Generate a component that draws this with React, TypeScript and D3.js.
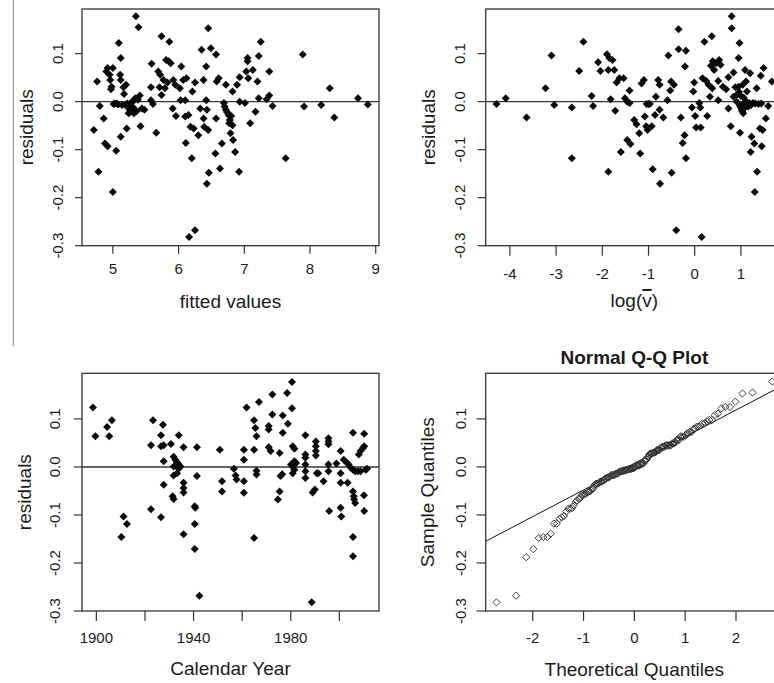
import React from "react";
import * as d3 from "d3";

// ---------- data ----------
const fittedPoints: [number, number][] = [
  [4.71,-0.059],[4.76,0.042],[4.78,-0.146],[4.80,-0.009],[4.86,-0.035],[4.88,-0.087],[4.92,-0.093],[4.90,0.063],
  [4.92,0.070],[4.95,0.056],[4.96,0.045],[5.00,0.070],[4.98,0.031],[4.97,0.026],[5.00,-0.188],[5.01,-0.005],
  [5.05,-0.102],[5.06,-0.004],[5.09,0.122],[5.12,0.091],[5.11,0.056],[5.12,0.045],[5.12,-0.073],[5.16,0.030],
  [5.17,0.016],[5.14,-0.007],[5.19,-0.007],[5.21,-0.056],[5.20,0.035],[5.24,-0.024],[5.25,-0.016],[5.27,-0.009],
  [5.29,-0.017],[5.30,0.000],[5.34,0.007],[5.35,0.178],[5.39,0.155],[5.41,0.013],[5.42,-0.051],[5.44,-0.014],
  [5.48,-0.017],[5.58,0.003],[5.59,0.079],[5.58,0.030],[5.61,-0.005],[5.66,-0.065],[5.71,0.030],[5.69,0.063],
  [5.72,0.056],[5.74,0.014],[5.74,0.136],[5.77,0.045],[5.79,0.028],[5.81,0.087],[5.83,0.040],[5.86,0.125],
  [5.85,0.084],[5.88,0.080],[5.91,-0.014],[5.92,0.045],[5.95,0.035],[5.96,-0.030],[6.02,0.028],[6.04,0.073],
  [6.03,0.003],[6.07,0.045],[6.10,0.003],[6.10,-0.031],[6.11,-0.086],[6.12,0.049],[6.15,-0.028],[6.16,-0.282],
  [6.18,-0.052],[6.20,-0.118],[6.21,0.021],[6.23,-0.056],[6.25,0.040],[6.25,-0.268],[6.30,-0.070],[6.33,-0.014],
  [6.35,0.108],[6.38,0.045],[6.38,-0.035],[6.39,-0.052],[6.42,0.073],[6.42,0.003],[6.43,-0.017],[6.43,-0.171],
  [6.45,0.153],[6.45,-0.059],[6.46,-0.148],[6.49,0.111],[6.56,-0.108],[6.57,0.098],[6.57,-0.035],[6.58,0.042],
  [6.61,0.049],[6.63,-0.139],[6.66,-0.087],[6.69,-0.003],[6.72,-0.017],[6.72,0.035],[6.76,-0.028],[6.78,-0.038],
  [6.79,-0.066],[6.82,0.021],[6.82,-0.049],[6.83,-0.080],[6.86,-0.105],[6.89,0.035],[6.92,-0.146],[6.93,0.000],
  [6.93,0.051],[7.01,-0.003],[7.03,0.063],[7.05,0.084],[7.05,0.091],[7.06,0.049],[7.09,-0.045],[7.13,0.066],
  [7.17,-0.021],[7.20,0.042],[7.22,0.007],[7.22,0.095],[7.25,0.125],[7.34,0.005],[7.38,0.063],[7.38,0.013],
  [7.43,-0.009],[7.63,-0.118],[7.89,0.098],[7.91,-0.010],[8.17,-0.007],[8.30,0.028],[8.37,-0.033],[8.73,0.007],
  [8.88,-0.006],[5.03,-0.004],[5.08,-0.006],[5.22,-0.004],[5.26,-0.022],[5.28,-0.002],[5.31,-0.012],[5.32,-0.024],
  [5.36,-0.020],[5.38,0.004],[6.70,-0.010],[6.74,-0.022],[6.80,-0.030],[6.77,-0.045],
];

const logVPoints: [number, number][] = [
  [-4.29,-0.005],[-4.09,0.007],[-3.64,-0.033],[-3.23,0.028],[-3.10,0.096],[-3.04,-0.007],[-2.66,-0.012],[-2.66,-0.118],
  [-2.50,0.064],[-2.41,0.125],[-2.23,0.012],[-2.20,-0.009],[-2.09,0.082],[-2.04,0.064],[-1.90,0.099],[-1.85,0.091],
  [-1.78,0.087],[-1.87,0.066],[-1.74,0.066],[-1.87,-0.146],[-1.82,0.005],[-1.72,-0.019],[-1.69,0.040],[-1.63,0.049],
  [-1.54,0.049],[-1.60,-0.105],[-1.51,0.007],[-1.46,0.000],[-1.41,0.023],[-1.41,-0.003],[-1.46,-0.080],[-1.39,-0.088],
  [-1.31,-0.038],[-1.26,-0.047],[-1.20,-0.066],[-1.18,-0.108],[-1.15,0.038],[-1.10,0.045],[-1.08,-0.031],[-1.05,-0.051],
  [-1.04,-0.005],[-1.00,-0.005],[-1.02,-0.059],[-0.97,-0.005],[-0.93,-0.051],[-0.91,-0.141],[-0.86,-0.028],[-0.84,0.010],
  [-0.79,0.045],[-0.76,0.035],[-0.76,-0.017],[-0.75,-0.171],[-0.68,-0.033],[-0.59,0.003],[-0.57,0.096],[-0.53,0.023],
  [-0.51,0.042],[-0.50,-0.148],[-0.45,0.035],[-0.40,-0.268],[-0.35,0.151],[-0.35,0.109],[-0.30,-0.033],[-0.26,-0.086],
  [-0.22,-0.070],[-0.21,0.073],[-0.19,0.106],[-0.19,-0.118],[-0.06,-0.012],[-0.03,0.021],[-0.01,0.040],[0.01,-0.030],
  [0.03,-0.054],[0.10,-0.003],[0.12,-0.012],[0.15,-0.282],[0.13,-0.054],[0.17,0.049],[0.21,0.125],[0.25,0.043],
  [0.27,-0.030],[0.30,0.035],[0.33,0.010],[0.35,0.075],[0.37,0.136],[0.38,0.028],[0.39,0.084],[0.42,0.066],
  [0.46,0.080],[0.51,0.043],[0.53,0.087],[0.51,0.003],[0.56,0.077],[0.61,0.031],[0.68,0.026],[0.73,-0.014],
  [0.73,0.051],[0.78,-0.051],[0.80,0.178],[0.80,0.153],[0.84,0.061],[0.84,0.010],[0.91,0.000],[0.95,0.091],
  [0.95,0.031],[0.97,0.122],[0.98,-0.065],[0.98,-0.009],[1.02,-0.017],[1.04,0.035],[1.07,-0.003],[1.09,0.066],
  [1.11,0.042],[1.13,0.021],[1.16,-0.010],[1.20,0.059],[1.21,-0.105],[1.23,-0.073],[1.26,-0.003],[1.29,-0.087],
  [1.30,-0.188],[1.34,0.028],[1.35,-0.146],[1.38,-0.005],[1.41,-0.056],[1.43,0.054],[1.45,-0.093],[1.47,-0.059],
  [1.49,0.070],[1.54,-0.035],[1.59,-0.009],[1.67,0.042],[1.00,-0.012],[1.03,-0.020],[1.05,-0.024],[1.08,-0.013],
  [1.10,-0.006],[1.12,0.000],[1.15,-0.008],[1.18,-0.003],[1.22,-0.007],[1.31,-0.004],[0.88,0.030],[0.92,0.015],
  [0.96,0.020],[1.00,0.012],[1.06,0.008],[1.44,-0.004],
];

const yearPoints: [number, number][] = [
  [1898.6,0.124],[1899.6,0.064],[1904.4,0.083],[1906.4,0.097],[1905.3,0.064],[1911.2,-0.103],[1912.6,-0.119],[1910.3,-0.146],
  [1922.5,-0.088],[1922.5,0.045],[1923.3,0.097],[1926.6,-0.105],[1926.6,0.066],[1927.4,0.088],[1927.7,0.045],[1926.6,0.043],
  [1927.7,0.012],[1927.7,-0.037],[1930.7,0.048],[1933.9,0.066],[1931.8,0.021],[1932.5,0.015],[1933.2,0.010],[1933.9,0.005],
  [1931.8,0.001],[1933.9,-0.004],[1931.8,-0.018],[1933.2,-0.013],[1934.6,0.001],[1931.4,-0.061],[1931.8,-0.067],[1935.9,0.041],
  [1935.9,-0.033],[1935.9,-0.044],[1935.9,-0.053],[1935.9,-0.140],[1941.4,0.041],[1941.4,-0.019],[1940.5,-0.082],[1940.7,-0.085],
  [1940.5,-0.119],[1940.5,-0.171],[1942.4,-0.268],[1950.8,0.036],[1951.7,-0.030],[1951.7,-0.051],
  [1956.6,-0.004],[1957.3,-0.018],[1957.7,-0.026],[1960.7,0.036],[1960.7,0.015],[1960.7,-0.030],[1960.7,-0.054],[1961.8,0.124],
  [1964.9,-0.148],[1964.9,0.036],[1964.9,0.097],[1965.4,0.081],[1965.9,0.064],[1965.9,-0.008],[1965.9,-0.016],[1966.9,0.135],
  [1970.9,0.085],[1970.9,0.078],[1970.9,0.041],[1971.7,0.033],[1972.4,0.151],[1972.4,0.109],[1974.7,-0.068],[1975.4,-0.051],
  [1975.4,0.029],[1975.8,-0.019],[1976.5,-0.015],[1976.7,0.107],[1976.7,0.071],[1978.5,0.154],[1978.8,0.090],[1980.5,0.177],
  [1980.5,0.122],[1980.8,0.043],[1981.5,0.038],[1980.1,0.005],[1980.8,0.001],[1981.5,0.012],[1980.8,-0.013],[1981.5,-0.006],
  [1982.2,0.008],[1986.0,0.066],[1986.0,0.026],[1986.0,0.019],[1986.0,0.005],[1986.0,-0.009],[1986.0,-0.023],[1990.3,0.053],
  [1990.3,0.043],[1990.3,0.033],[1990.3,0.024],[1989.0,-0.053],[1989.9,-0.047],[1990.7,-0.013],[1991.3,-0.013],[1993.5,-0.030],
  [1995.5,0.060],[1995.5,0.053],[1995.5,0.047],[1995.5,0.005],[1995.5,-0.009],[1995.8,-0.092],[1998.8,0.007],[2000.5,0.033],
  [2000.5,-0.013],[2000.5,-0.033],[2000.5,-0.085],[2000.8,-0.103],[2001.8,0.015],[2002.9,0.010],[2003.4,-0.033],[2003.8,0.005],
  [2004.8,-0.002],[2005.6,0.071],[2005.6,-0.006],[2005.6,-0.051],[2005.9,-0.061],[2006.1,-0.068],[2006.5,-0.075],[2005.6,-0.146],
  [2005.6,-0.186],[2006.5,-0.009],[2007.6,-0.009],[2008.0,0.026],[2008.7,0.033],[2009.8,0.040],[2010.2,0.069],[2010.2,0.043],
  [2010.1,-0.059],[2010.2,-0.092],[2008.7,-0.009],[2010.8,-0.006],[2011.4,-0.004],[1988.6,-0.282],
];

// reference line of the Q-Q panel
const qqLineIntercept = 0.0075;
const qqLineSlope = 0.0555;

const residualTicks = [-0.3, -0.2, -0.1, 0, 0.1];
const residualTickLabels = ["-0.3", "-0.2", "-0.1", "0.0", "0.1"];
const fittedTicks = [5, 6, 7, 8, 9];
const fittedTickLabels = ["5", "6", "7", "8", "9"];
const logVTicks = [-4, -3, -2, -1, 0, 1];
const logVTickLabels = ["-4", "-3", "-2", "-1", "0", "1"];
const yearTicks = [1900, 1920, 1940, 1960, 1980, 2000];
const yearTickLabels = ["1900", "", "1940", "", "1980", ""];
const qqTicks = [-2, -1, 0, 1, 2];
const qqTickLabels = ["-2", "-1", "0", "1", "2"];

// ---------- helpers ----------
function qnorm(p: number): number {
  const a = [-3.969683028665376e1, 2.209460984245205e2, -2.759285104469687e2, 1.38357751867269e2, -3.066479806614716e1, 2.506628277459239];
  const b = [-5.447609879822406e1, 1.615858368580409e2, -1.556989798598866e2, 6.680131188771972e1, -1.328068155288572e1];
  const c = [-7.784894002430293e-3, -3.223964580411365e-1, -2.400758277161838, -2.549732539343734, 4.374664141464968, 2.938163982698783];
  const d = [7.784695709041462e-3, 3.224671290700398e-1, 2.445134137142996, 3.754408661907416];
  const plow = 0.02425;
  if (p < plow) {
    const q = Math.sqrt(-2 * Math.log(p));
    return (((((c[0] * q + c[1]) * q + c[2]) * q + c[3]) * q + c[4]) * q + c[5]) / ((((d[0] * q + d[1]) * q + d[2]) * q + d[3]) * q + 1);
  }
  if (p <= 1 - plow) {
    const q = p - 0.5, r = q * q;
    return ((((((a[0] * r + a[1]) * r + a[2]) * r + a[3]) * r + a[4]) * r + a[5]) * q) / (((((b[0] * r + b[1]) * r + b[2]) * r + b[3]) * r + b[4]) * r + 1);
  }
  const q = Math.sqrt(-2 * Math.log(1 - p));
  return -(((((c[0] * q + c[1]) * q + c[2]) * q + c[3]) * q + c[4]) * q + c[5]) / ((((d[0] * q + d[1]) * q + d[2]) * q + d[3]) * q + 1);
}

const sortedResiduals = fittedPoints.map((p) => p[1]).sort(d3.ascending);
const nRes = sortedResiduals.length;
const qqPoints: [number, number][] = sortedResiduals.map((v, i) => [qnorm((i + 0.5) / nRes), v]);

const FONT = "'Liberation Sans', Arial, Helvetica, sans-serif";
const INK = "#1a1a1a";
const AXIS = "#333";

type PanelCfg = {
  id: string;
  points: [number, number][];
  xDomain: [number, number];
  xRange: [number, number];
  yDomain: [number, number];
  yRange: [number, number];
  xTicks: number[];
  xTickLabels: string[];
  xTickLen: number;
  yTickLen: number;
  xLabelBaseline: number;
  xTitle: React.ReactNode;
  xTitleBaseline: number;
  yTitle: string;
  yLabelX: number;
  yTitleX: number;
  zeroLine: boolean;
  open: boolean;
  qqLine?: boolean;
  main?: string;
  mainBaseline?: number;
};

function Panel({ cfg }: { cfg: PanelCfg }) {
  const x = d3.scaleLinear().domain(cfg.xDomain).range(cfg.xRange);
  const y = d3.scaleLinear().domain(cfg.yDomain).range(cfg.yRange);
  const [x0, x1] = cfg.xRange;
  const [yb, yt] = cfg.yRange;
  const cx = (x0 + x1) / 2;
  const cy = (yb + yt) / 2;
  const diamond = d3.symbol(d3.symbolSquare, cfg.open ? 26 : 32)();
  const clipId = `clip-${cfg.id}`;
  return (
    <g>
      <defs>
        <clipPath id={clipId}>
          <rect x={x0} y={yt} width={x1 - x0} height={yb - yt} />
        </clipPath>
      </defs>
      {cfg.zeroLine && (
        <line x1={x0} x2={x1} y1={y(0)} y2={y(0)} stroke={AXIS} strokeWidth={1.4} />
      )}
      {cfg.qqLine && (
        <line
          clipPath={`url(#${clipId})`}
          x1={x0}
          x2={x1}
          y1={y(qqLineIntercept + qqLineSlope * cfg.xDomain[0])}
          y2={y(qqLineIntercept + qqLineSlope * cfg.xDomain[1])}
          stroke="#111"
          strokeWidth={1}
        />
      )}
      {cfg.points.map((p, i) => (
        <path
          key={i}
          d={diamond || ""}
          transform={`translate(${x(p[0])},${y(p[1])}) rotate(45)`}
          fill={cfg.open ? "none" : "#0a0a0a"}
          stroke={cfg.open ? "#333" : "none"}
          strokeWidth={cfg.open ? 0.9 : 0}
        />
      ))}
      <rect x={x0} y={yt} width={x1 - x0} height={yb - yt} fill="none" stroke={AXIS} strokeWidth={1.3} />
      {cfg.xTicks.map((t, i) => (
        <g key={"xt" + i}>
          <line x1={x(t)} x2={x(t)} y1={yb} y2={yb + cfg.xTickLen} stroke={AXIS} strokeWidth={1.2} />
          <text x={x(t)} y={cfg.xLabelBaseline} textAnchor="middle" fontSize={15} fontFamily={FONT} fill={INK}>
            {cfg.xTickLabels[i]}
          </text>
        </g>
      ))}
      {residualTicks.map((t, i) => (
        <g key={"yt" + i}>
          <line x1={x0 - cfg.yTickLen} x2={x0} y1={y(t)} y2={y(t)} stroke={AXIS} strokeWidth={1.2} />
          <text
            transform={`translate(${cfg.yLabelX},${y(t)}) rotate(-90)`}
            textAnchor="middle"
            dominantBaseline="central"
            fontSize={15}
            fontFamily={FONT}
            fill={INK}
          >
            {residualTickLabels[i]}
          </text>
        </g>
      ))}
      <text x={cx} y={cfg.xTitleBaseline} textAnchor="middle" fontSize={19} fontFamily={FONT} fill={INK}>
        {cfg.xTitle}
      </text>
      <text
        transform={`translate(${cfg.yTitleX},${cy}) rotate(-90)`}
        textAnchor="middle"
        dominantBaseline="central"
        fontSize={19}
        fontFamily={FONT}
        fill={INK}
      >
        {cfg.yTitle}
      </text>
      {cfg.main && (
        <text x={cx} y={cfg.mainBaseline} textAnchor="middle" fontSize={19} fontWeight="bold" fontFamily={FONT} fill={INK}>
          {cfg.main}
        </text>
      )}
    </g>
  );
}

export default function App() {
  const panels: PanelCfg[] = [
    {
      id: "fit", points: fittedPoints,
      xDomain: [4.53, 9.05], xRange: [82, 379], yDomain: [-0.3, 0.193], yRange: [245.7, 9],
      xTicks: fittedTicks, xTickLabels: fittedTickLabels, xTickLen: 8, yTickLen: 7,
      xLabelBaseline: 274, xTitle: "fitted values", xTitleBaseline: 308,
      yTitle: "residuals", yLabelX: 57, yTitleX: 26, zeroLine: true, open: false,
    },
    {
      id: "logv", points: logVPoints,
      xDomain: [-4.524, 1.911], xRange: [485.7, 783], yDomain: [-0.3, 0.193], yRange: [245.7, 9],
      xTicks: logVTicks, xTickLabels: logVTickLabels, xTickLen: 10, yTickLen: 8,
      xLabelBaseline: 279, xTitle: (<>log(<tspan textDecoration="overline">v</tspan>)</>), xTitleBaseline: 307,
      yTitle: "residuals", yLabelX: 459, yTitleX: 428, zeroLine: true, open: false,
    },
    {
      id: "year", points: yearPoints,
      xDomain: [1894.1, 2016.3], xRange: [82, 379], yDomain: [-0.3, 0.195], yRange: [611, 373.3],
      xTicks: yearTicks, xTickLabels: yearTickLabels, xTickLen: 10, yTickLen: 8,
      xLabelBaseline: 643, xTitle: "Calendar Year", xTitleBaseline: 675,
      yTitle: "residuals", yLabelX: 54, yTitleX: 24, zeroLine: true, open: false,
    },
    {
      id: "qq", points: qqPoints,
      xDomain: [-2.925, 2.925], xRange: [485.7, 783], yDomain: [-0.3, 0.195], yRange: [611, 373.3],
      xTicks: qqTicks, xTickLabels: qqTickLabels, xTickLen: 10, yTickLen: 9,
      xLabelBaseline: 643, xTitle: "Theoretical Quantiles", xTitleBaseline: 676,
      yTitle: "Sample Quantiles", yLabelX: 460, yTitleX: 427, zeroLine: false, open: true,
      qqLine: true, main: "Normal Q-Q Plot", mainBaseline: 364,
    },
  ];
  return (
    <svg
      width={774}
      height={683}
      viewBox="0 0 774 683"
      style={{ position: "absolute", left: 0, top: 0, background: "#fff", display: "block" }}
    >
      <rect x={0} y={0} width={774} height={683} fill="#fff" />
      <line x1={13.3} x2={13.3} y1={0} y2={346} stroke="#8a8a8a" strokeWidth={1} />
      {panels.map((p) => (
        <Panel key={p.id} cfg={p} />
      ))}
    </svg>
  );
}
